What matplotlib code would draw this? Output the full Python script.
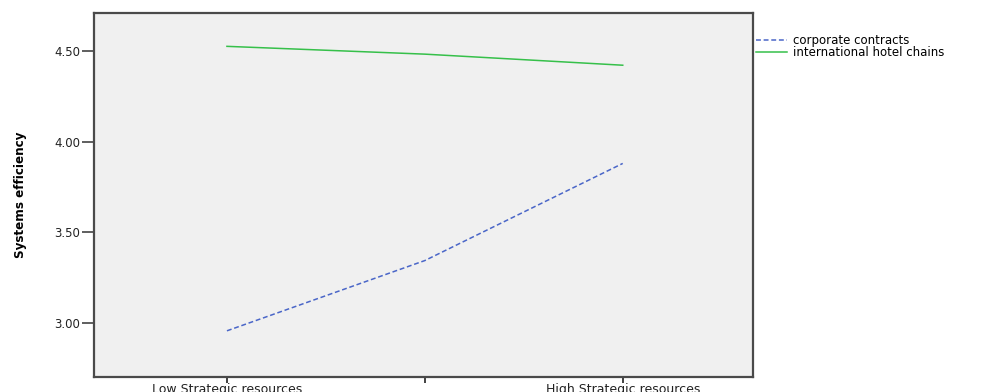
import matplotlib
matplotlib.use("Agg")
import matplotlib.pyplot as plt

categories = ["Low Strategic resources", "", "High Strategic resources"]
series_names = ["corporate contracts", "international hotel chains"]
corporate = [2.958, 3.345, 3.88]
hotel = [4.525, 4.482, 4.421]
yticks = [3.00, 3.50, 4.00, 4.50]

fig = plt.figure(figsize=(9.88, 3.92), dpi=100)
ax = fig.add_axes([0.0955, 0.038, 0.667, 0.929])
ax.set_facecolor("#f0f0f0")
x = list(range(len(categories)))
ax.plot(x, corporate, color="#4a66c8", lw=1.1, ls=(0, (3.2, 1.8)), label=series_names[0])
ax.plot(x, hotel, color="#36c04a", lw=1.1, label=series_names[1])
ax.set_xlim(-0.67, 2.66)
ax.set_ylim(2.703, 4.709)
ax.set_xticks(x)
ax.set_xticklabels(categories, fontsize=9, family="DejaVu Sans", color="#222222")
ax.set_yticks(yticks)
ax.set_yticklabels([f"{v:.2f}" for v in yticks], fontsize=8.5, family="DejaVu Sans", color="#222222")
ax.tick_params(axis="y", direction="out", length=9, width=1.1, color="#333333", pad=1.2)
ax.tick_params(axis="x", direction="out", length=4, width=1.3, color="#333333", pad=0.2)
for s in ax.spines.values():
    s.set_color("#4a4a4a")
    s.set_linewidth(1.6)
ax.set_ylabel("Systems efficiency", fontsize=9.5, fontweight="bold",
              family="DejaVu Sans", fontstretch="condensed")
ax.yaxis.set_label_coords(-0.102, 0.5)
ax.legend(loc="upper left", bbox_to_anchor=(0.762, 0.92), bbox_transform=fig.transFigure,
          frameon=False, prop={"family": "DejaVu Sans", "size": 8.5}, handlelength=2.6,
          handletextpad=0.55, labelspacing=-0.1, borderaxespad=0.0, borderpad=0.25)
fig.savefig("out.png", dpi=100)
